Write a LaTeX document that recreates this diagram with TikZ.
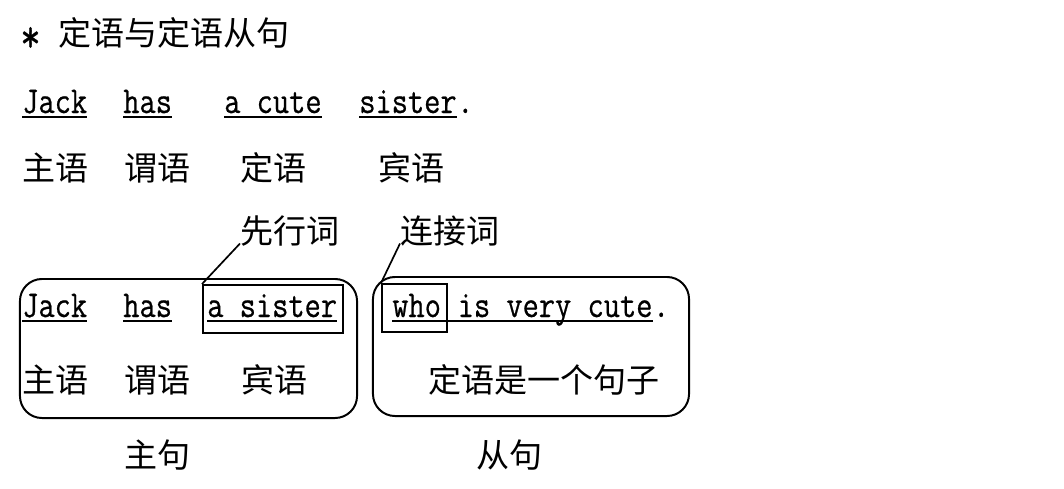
\documentclass[tikz,border=0pt]{standalone}
\usepackage{fontspec}
\newfontfamily\cjk{Noto Sans CJK SC}
\newfontfamily\entt{Latin Modern Mono}[FakeStretch=0.83, FakeBold=0.6]
\usetikzlibrary{positioning}

\begin{document}
\begin{tikzpicture}[x=0.025cm, y=-0.025cm,
        en/.style={anchor=base west, inner sep=0, font=\fontsize{27}{30}\selectfont\entt},
        zh/.style={anchor=base west, inner sep=0, font=\fontsize{23.5}{28}\selectfont\cjk},
        uline/.style={line width=1.4pt},
        clause/.style={draw, line width=1.4pt, rounded corners=0.55cm, minimum height=3.475cm},
        wordbox/.style={draw, line width=1.4pt, minimum height=1.2cm}]
        \useasboundingbox (0,0) rectangle (1064,488);
        % Title
        \node[en, font=\fontsize{34}{36}\selectfont\entt] (star) at (20,52) {*};
        \node[zh] (title) at (58,45.5) {定语与定语从句};
        % First sentence
        \node[en] (jackA) at (22,113) {Jack};
        \node[en] (hasA) at (123,113) {has};
        \node[en] (cuteA) at (224,113) {a cute};
        \node[en] (sisterA) at (359,113) {sister};
        \node[en] (dotA) at (sisterA.base east) {.};
        \node[zh] (subjA) at (22,180) {主语};
        \node[zh] (predA) at (124,180) {谓语};
        \node[zh] (attrA) at (240,180) {定语};
        \node[zh] (objA) at (378,180) {宾语};
        % Labels
        \node[zh] (ante) at (240,243.5) {先行词};
        \node[zh] (conj) at (400,243.5) {连接词};
        % Second sentence
        \node[en] (jackB) at (22,317) {Jack};
        \node[en] (hasB) at (123,317) {has};
        \node[en] (sisB) at (207,317) {a sister};
        \node[en] (who) at (392,317) {who};
        \node[en] (rest) at (who.base east) {\ is very cute};
        \node[en] (dotB) at (rest.base east) {.};
        \node[zh] (subjB) at (22,392.5) {主语};
        \node[zh] (predB) at (124,392.5) {谓语};
        \node[zh] (objB) at (241,392.5) {宾语};
        \node[zh] (attrB) at (428,392.5) {定语是一个句子};
        \node[zh] (mainl) at (124,467.5) {主句};
        \node[zh] (subl) at (476,467.5) {从句};
        % Boxes
        \node[wordbox, minimum width=3.5cm] (antbox) at (273,309) {};
        \node[wordbox, minimum width=1.625cm] (conjbox) at (414.5,308) {};
        \node[clause, minimum width=8.425cm] (mainc) at (188.5,348.5) {};
        \node[clause, minimum width=7.9cm] (subc) at (531,346.5) {};
        % Underlines
        \foreach \w in {jackA,hasA,cuteA,sisterA,jackB,hasB,sisB} {
            \draw[uline] ([yshift=-0.11cm]\w.base west) -- ([yshift=-0.11cm]\w.base east);
        }
        \draw[uline] ([yshift=-0.11cm]who.base west) -- ([yshift=-0.11cm]rest.base east);
        % Leaders
        \draw[line width=1.2pt] (ante.base west) -- (antbox.north west);
        \draw[line width=1.2pt] (conj.base west) -- (conjbox.north west);
    \end{tikzpicture}
\end{document}
